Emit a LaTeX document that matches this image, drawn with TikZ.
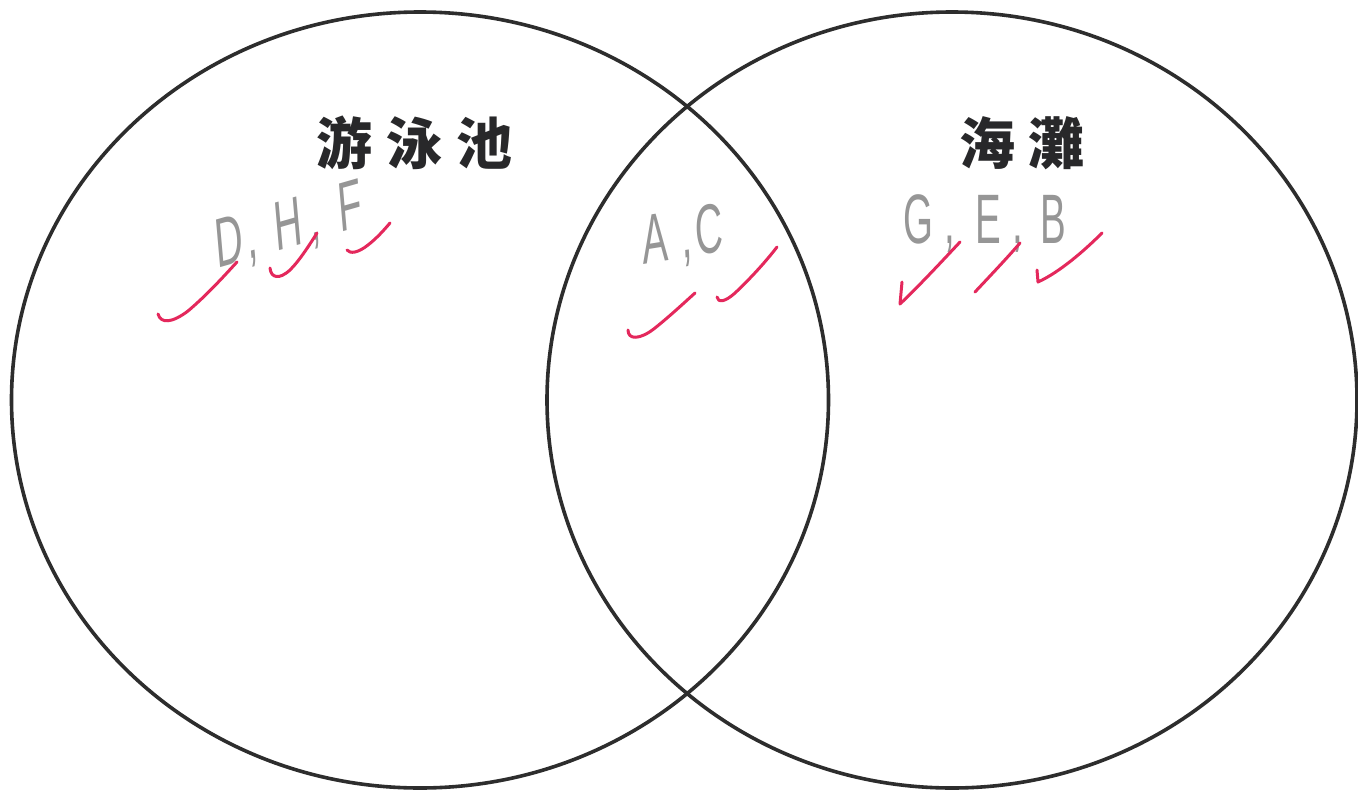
\documentclass[tikz,border=0pt]{standalone}
\usepackage{fontspec}
\setmainfont{Liberation Sans}
\newfontfamily\cjk{Noto Sans CJK TC}
\usetikzlibrary{shapes.geometric}
\definecolor{ring}{RGB}{45,45,45}
\definecolor{title}{RGB}{40,40,42}
\definecolor{pencil}{RGB}{150,150,150}
\definecolor{tick}{RGB}{228,40,92}
\tikzset{
  setring/.style={draw=ring, line width=3.6pt, ellipse, minimum width=817pt, minimum height=776pt, inner sep=0pt},
  settitle/.style={text=title, font=\cjk\bfseries\fontsize{56pt}{60pt}\selectfont, inner sep=0pt},
  hand/.style={text=pencil, font=\fontsize{70pt}{72pt}\selectfont, xscale=0.55, inner sep=0pt},
  chk/.style={draw=tick, line width=3pt, line cap=round, line join=round}
}
\begin{document}
\begin{tikzpicture}[x=1pt,y=-1pt]
\useasboundingbox (0,0) rectangle (1358,796);
\fill[white] (0,0) rectangle (1358,796);
% circles
\node[setring] (pool) at (420,400) {};
\node[setring, minimum width=810pt] (beach) at (952,400) {};
% titles
\node[settitle] (pooltitle) at (414,143) {游\hspace{14pt}泳\hspace{14pt}池};
\node[settitle] (beachtitle) at (1022,143) {海\hspace{13pt}灘};
% handwritten letters
\node[hand, rotate=9] (poolset) at (289,228) {D\hspace{8pt},\hspace{32pt}H\hspace{14pt},\hspace{34pt}F};
\node[hand, rotate=5] (bothset) at (683,238) {A\hspace{24pt},\hspace{6pt}C};
\node[hand] (beachset) at (985,224) {G\hspace{20pt},\hspace{36pt}E\hspace{20pt},\hspace{32pt}B};
% red ticks: pool
\draw[chk] (158,314) .. controls (161,324) and (172,323) .. (188,311) .. controls (208,294) and (224,276) .. (237,262);
\draw[chk] (270,268) .. controls (271,278) and (279,280) .. (290,270) .. controls (300,260) and (310,244) .. (317,233);
\draw[chk] (347,250) .. controls (350,254) and (358,253) .. (368,245) .. controls (377,238) and (384,230) .. (390,223);
% red ticks: both
\draw[chk] (628,330) .. controls (628,340) and (640,340) .. (655,328) .. controls (670,316) and (685,302) .. (695,293);
\draw[chk] (717,297) .. controls (718,303) and (725,302) .. (735,293) .. controls (752,277) and (767,260) .. (777,247);
% red ticks: beach
\draw[chk] (902,282) -- (900,304) .. controls (920,285) and (945,258) .. (960,242);
\draw[chk] (975,292) .. controls (990,276) and (1008,257) .. (1020,243);
\draw[chk] (1037,270) -- (1038,282) .. controls (1060,272) and (1085,250) .. (1102,233);
\end{tikzpicture}
\end{document}
